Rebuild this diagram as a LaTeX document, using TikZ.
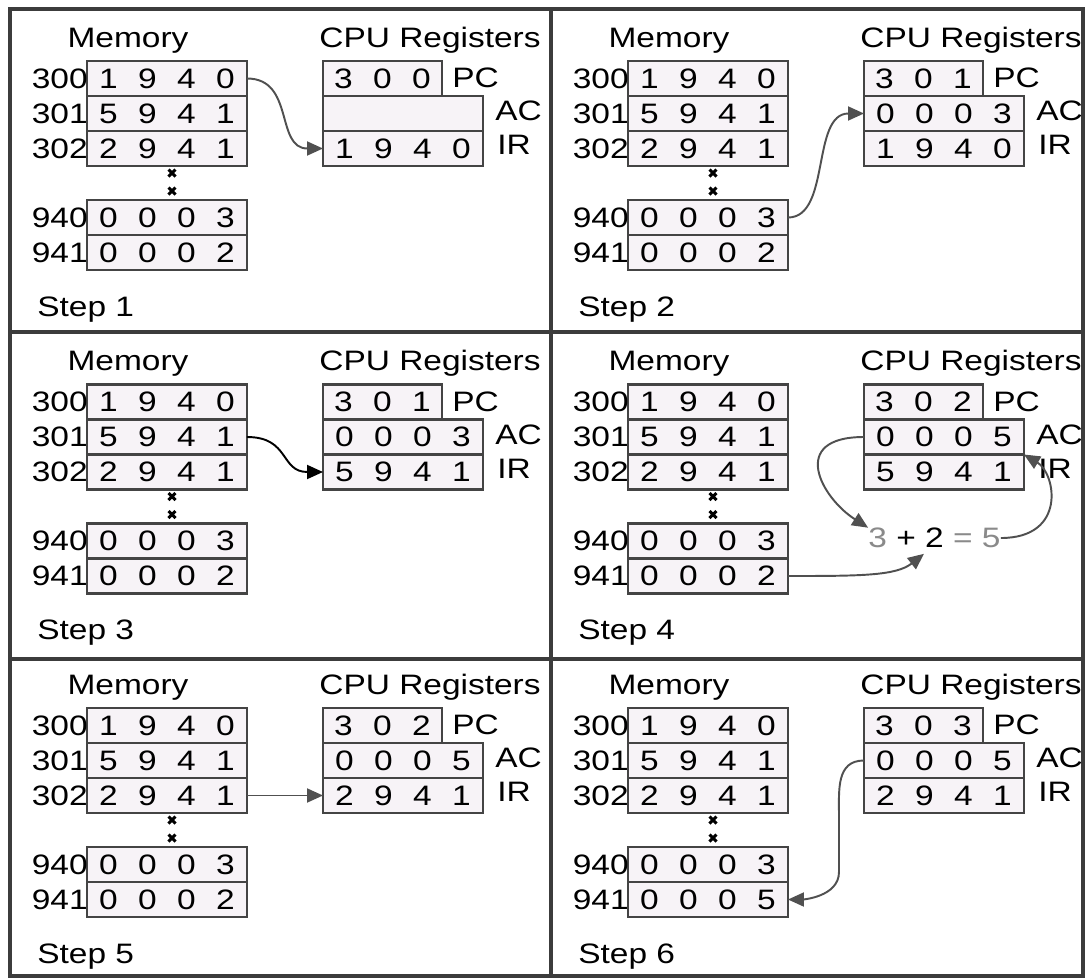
\documentclass[tikz,border=0pt]{standalone}
\usepackage{fontspec}
\newfontfamily\diagfont{Liberation Sans}[FakeStretch=1.19]
\usetikzlibrary{arrows.meta}

\definecolor{boxline}{HTML}{444444}
\definecolor{cellfill}{HTML}{F7F3F7}
\definecolor{wire}{HTML}{505050}
\definecolor{framegray}{HTML}{3C3C3C}
\definecolor{sumgray}{HTML}{8A8A8A}

% one digit per slot
\newcommand\digitbox[1]{\makebox[0.78cm]{#1}}
\def\digitloop#1{\ifx#1\relax\else\digitbox{#1}\expandafter\digitloop\fi}
\newcommand\digits[1]{\edef\digitstmp{#1}\expandafter\digitloop\digitstmp\relax}

\tikzset{
    cell/.style={draw=boxline, fill=cellfill, line width=1.5pt, rectangle,
        inner sep=0pt, outer sep=0pt, minimum height=0.7cm, minimum width=3.2cm,
        anchor=north west},
    pcbox/.style={cell, minimum width=2.38cm},
    addr/.style={anchor=east, inner sep=0pt},
    reglabel/.style={anchor=west, inner sep=0pt},
    title/.style={anchor=base, inner sep=0pt},
    flow/.style={draw=wire, line width=1.1pt, -{Triangle[length=0.32cm, width=0.28cm]}},
    gapmark/.style={line width=1.7pt, draw=black},
}

\begin{document}
\begin{tikzpicture}[x=0.02cm, y=-0.02cm, font=\diagfont\fontsize{16}{19}\selectfont]
        \useasboundingbox (0,0) rectangle (1086,978);
        \fill[white] (0,0) rectangle (1086,978);

        % Panels (column/row/step/PC/AC/IR/last word)
        \foreach \c/\r/\n/\pc/\ac/\ir/\last in {0/0/1/300//1940/0002, 1/0/2/301/0003/1940/0002,
                0/1/3/301/0003/5941/0002, 1/1/4/302/0005/5941/0002,
                0/2/5/302/0005/2941/0002, 1/2/6/303/0005/2941/0005} {
            \begin{scope}[shift={(541*\c,323.5*\r)}]
                % Memory
                \node[title] (mt-\n) at (128,47) {Memory};
                \foreach \a/\v/\y in {300/1940/61, 301/5941/96, 302/2941/131, 940/0003/200, 941/\last/235} {
                    \node[cell] (m\a-\n) at (87,\y) {\digits{\v}};
                    \node[addr] (a\a-\n) at (88,\y+17.5) {\a};
                }
                \foreach \y in {173,191} {
                    \draw[gapmark] (168.5,\y-3.5) -- (175.5,\y+3.5) (168.5,\y+3.5) -- (175.5,\y-3.5);
                }
                % CPU registers
                \node[title] (ct-\n) at (430,47) {CPU Registers};
                \node[pcbox] (pc-\n) at (323,61) {\digits{\pc}};
                \node[cell] (ac-\n) at (323,96) {\digits{\ac}};
                \node[cell] (ir-\n) at (323,131) {\digits{\ir}};
                \node[reglabel] (pcl-\n) at (452,78) {PC};
                \node[reglabel] (acl-\n) at (495,111) {AC};
                \node[reglabel] (irl-\n) at (497,145) {IR};
                \node[anchor=base west, inner sep=0pt] (st-\n) at (37,316) {Step \n};
            \end{scope}
        }

        % Frame
        \draw[framegray, line width=2.8pt] (10,9) rectangle (1083,976);
        \draw[framegray, line width=2.8pt] (551,9) -- (551,976) (10,332) -- (1083,332) (10,659) -- (1083,659);

        % Step 1
        \draw[flow] (m300-1.east) .. controls +(48,0) and +(-48,0) .. (ir-1.west);
        % Step 2
        \draw[flow] (m940-2.east) .. controls +(43,0) and +(-53,0) .. (ac-2.west);
        % Step 3
        \draw[flow, draw=black] (m301-3.east) .. controls +(43,0) and +(-43,0) .. (ir-3.west);
        % Step 4
        \node[inner sep=0pt] (sum-4) at (934.5,538) {\textcolor{sumgray}{3} + 2 \textcolor{sumgray}{= 5}};
        \draw[flow] (ac-4.west) .. controls +(-76,0) and +(-47,-30) .. (sum-4.north west);
        \draw[flow] (sum-4.east) .. controls +(66,0) and +(32,19) .. (ir-4.north east);
        \draw[flow] (m941-4.east) .. controls +(73,0) and +(-28,22) .. ([xshift=-0.21cm, yshift=-0.11cm]sum-4.south);
        % Step 5
        \draw[flow] (m302-5.east) -- (ir-5.west);
        % Step 6
        \coordinate (bend-6) at (839,817);
        \draw[flow] (ac-6.west) .. controls +(-28,0) and +(0,-27) .. (bend-6) -- ++(0,55)
            .. controls +(0,25) and +(14,0) .. (m941-6.east);
    \end{tikzpicture}
\end{document}
